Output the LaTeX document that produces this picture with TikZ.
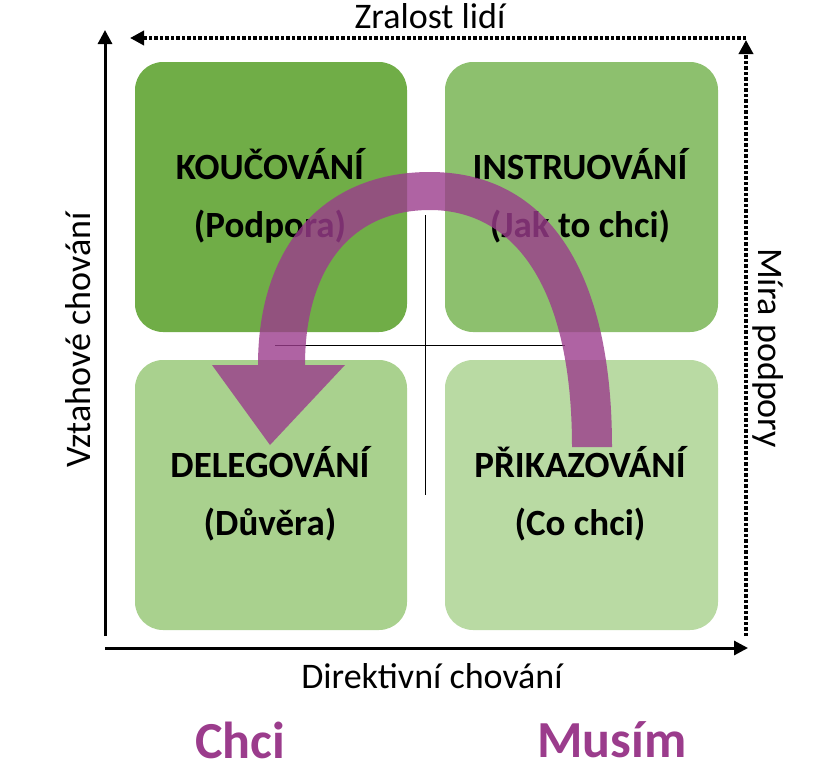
\documentclass[tikz,border=0pt]{standalone}
\usepackage{fontspec}
\setmainfont{Carlito}
\usetikzlibrary{arrows.meta}
\definecolor{gA}{HTML}{70AD47}
\definecolor{gB}{HTML}{8DC06E}
\definecolor{gC}{HTML}{A9D18E}
\definecolor{gD}{HTML}{B9DAA3}
\definecolor{purp}{HTML}{9B3C8C}
\begin{document}
\begin{tikzpicture}[x=1pt,y=-1pt,
  quad/.style={rounded corners=28pt,inner sep=0pt},
  qtext/.style={font=\fontsize{37}{58}\selectfont\bfseries,align=center,text=black},
  lab/.style={font=\fontsize{36}{40}\selectfont},
  axis/.style={line width=3pt,-{Triangle[length=14pt,width=14pt]}},
  daxis/.style={line width=3.5pt,dotted,-{Triangle[length=14pt,width=14pt]}}]
\useasboundingbox (0,0) rectangle (816,779);
\fill[gA,quad] (135,62) rectangle (407,332);
\fill[gB,quad] (445,62) rectangle (718,332);
\fill[gC,quad] (135,360) rectangle (407,630);
\fill[gD,quad] (445,360) rectangle (718,630);
\node[qtext] (ko) at (270,196) {KOUČOVÁNÍ\\(Podpora)};
\node[qtext] (in) at (580,196) {INSTRUOVÁNÍ\\(Jak to chci)};
\node[qtext] (de) at (270,494) {DELEGOVÁNÍ\\(Důvěra)};
\node[qtext] (pr) at (580,494) {PŘIKAZOVÁNÍ\\(Co chci)};
\coordinate (o) at (105,648);
\coordinate (yt) at (105,30);
\coordinate (xr) at (748,648);
\coordinate (tr) at (746,636);
\coordinate (tt) at (746,40);
\coordinate (tl) at (130,38);
\coordinate (tstart) at (746,38);
\draw[axis] (105,636) -- (yt);
\draw[axis] (o) -- (xr);
\draw[daxis] (tr) -- (tt);
\draw[daxis] (tstart) -- (tl);
\draw[line width=0.6pt] (425,215) -- (425,495);
\draw[line width=0.6pt] (275,345) -- (565,345);
\fill[purp,opacity=0.8] (572,447) -- (612,447) .. controls (612,260) and (540,172) .. (430,172)
  .. controls (320,172) and (258,250) .. (258,365) -- (212,365) -- (270,445) -- (345,365) -- (305,365)
  .. controls (305,270) and (350,210) .. (430,210) .. controls (510,210) and (572,280) .. (572,447) -- cycle;
\node[lab] (zl) at (430,16) {Zralost lidí};
\node[lab,rotate=90] (vc) at (78,340) {Vztahové chování};
\node[lab,rotate=-90] (mp) at (768,348) {Míra podpory};
\node[lab] (dc) at (432,676) {Direktivní chování};
\node[font=\fontsize{52}{58}\selectfont\bfseries,text=purp] (ch) at (240,740) {Chci};
\node[font=\fontsize{52}{58}\selectfont\bfseries,text=purp] (mu) at (612,740) {Musím};
\end{tikzpicture}
\end{document}
